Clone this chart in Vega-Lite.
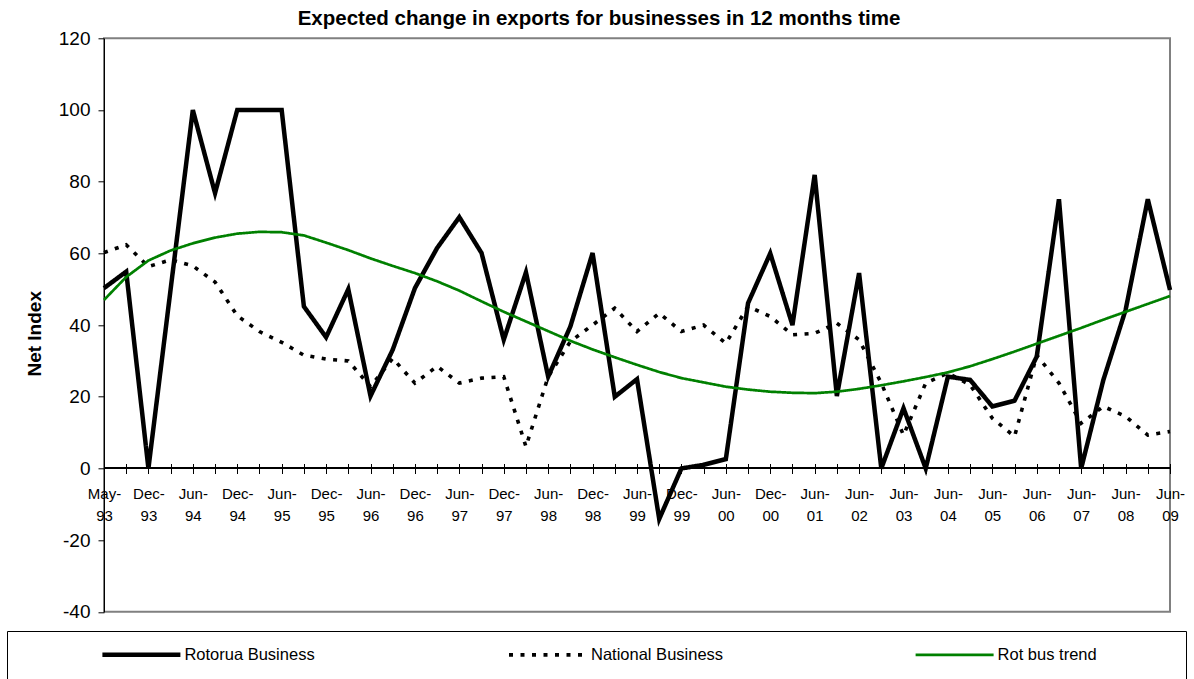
{
  "$schema": "https://vega.github.io/schema/vega-lite/v6.json",
  "width": 1066,
  "height": 573.5,
  "autosize": {"type": "none"},
  "padding": {"left": 104, "top": 38.3, "right": 24, "bottom": 67.2},
  "config": {"font": "Liberation Sans", "view": {"stroke": "#808080", "strokeWidth": 2}},
  "title": {"text": "Expected change in exports for businesses in 12 months time", "fontSize": 20.5, "fontWeight": "bold", "color": "#000", "anchor": "middle", "dx": -38, "dy": 8, "offset": 8},
  "data": {"values": [
    {"period": "May-93", "Rotorua Business": 50.3, "National Business": 60.2, "Rot bus trend": 47.0},
    {"period": "Sep-93", "Rotorua Business": 54.9, "National Business": 62.4, "Rot bus trend": 53.4},
    {"period": "Dec-93", "Rotorua Business": 0, "National Business": 56.3, "Rot bus trend": 58.0},
    {"period": "Mar-94", "Rotorua Business": 50, "National Business": 58.2, "Rot bus trend": 60.8},
    {"period": "Jun-94", "Rotorua Business": 100, "National Business": 56.5, "Rot bus trend": 62.8},
    {"period": "Sep-94", "Rotorua Business": 76.8, "National Business": 52.0, "Rot bus trend": 64.4},
    {"period": "Dec-94", "Rotorua Business": 100, "National Business": 42.6, "Rot bus trend": 65.5},
    {"period": "Mar-95", "Rotorua Business": 100, "National Business": 38.2, "Rot bus trend": 66.0},
    {"period": "Jun-95", "Rotorua Business": 100, "National Business": 35.2, "Rot bus trend": 65.9},
    {"period": "Sep-95", "Rotorua Business": 45.2, "National Business": 31.6, "Rot bus trend": 65.0},
    {"period": "Dec-95", "Rotorua Business": 36.6, "National Business": 30.5, "Rot bus trend": 63.0},
    {"period": "Mar-96", "Rotorua Business": 50.0, "National Business": 30.0, "Rot bus trend": 60.9},
    {"period": "Jun-96", "Rotorua Business": 20.2, "National Business": 22.8, "Rot bus trend": 58.6},
    {"period": "Sep-96", "Rotorua Business": 33.1, "National Business": 30.7, "Rot bus trend": 56.5},
    {"period": "Dec-96", "Rotorua Business": 50.3, "National Business": 23.8, "Rot bus trend": 54.5},
    {"period": "Mar-97", "Rotorua Business": 61.5, "National Business": 28.5, "Rot bus trend": 52.2},
    {"period": "Jun-97", "Rotorua Business": 70.1, "National Business": 23.8, "Rot bus trend": 49.6},
    {"period": "Sep-97", "Rotorua Business": 60.1, "National Business": 25.2, "Rot bus trend": 46.6},
    {"period": "Dec-97", "Rotorua Business": 35.9, "National Business": 25.6, "Rot bus trend": 43.7},
    {"period": "Mar-98", "Rotorua Business": 54.7, "National Business": 6.1, "Rot bus trend": 41.0},
    {"period": "Jun-98", "Rotorua Business": 25.6, "National Business": 25.6, "Rot bus trend": 38.3},
    {"period": "Sep-98", "Rotorua Business": 39.6, "National Business": 35.4, "Rot bus trend": 35.6},
    {"period": "Dec-98", "Rotorua Business": 60.1, "National Business": 40.0, "Rot bus trend": 33.2},
    {"period": "Mar-99", "Rotorua Business": 20.0, "National Business": 44.7, "Rot bus trend": 31.0},
    {"period": "Jun-99", "Rotorua Business": 24.9, "National Business": 38.2, "Rot bus trend": 28.9},
    {"period": "Sep-99", "Rotorua Business": -14.1, "National Business": 43.3, "Rot bus trend": 26.9},
    {"period": "Dec-99", "Rotorua Business": 0, "National Business": 38.2, "Rot bus trend": 25.2},
    {"period": "Mar-00", "Rotorua Business": 1.0, "National Business": 40.0, "Rot bus trend": 24.0},
    {"period": "Jun-00", "Rotorua Business": 2.6, "National Business": 34.9, "Rot bus trend": 22.8},
    {"period": "Sep-00", "Rotorua Business": 46.1, "National Business": 45.2, "Rot bus trend": 22.0},
    {"period": "Dec-00", "Rotorua Business": 60.0, "National Business": 42.4, "Rot bus trend": 21.4},
    {"period": "Mar-01", "Rotorua Business": 40.0, "National Business": 37.3, "Rot bus trend": 21.1},
    {"period": "Jun-01", "Rotorua Business": 81.9, "National Business": 37.7, "Rot bus trend": 21.0},
    {"period": "Dec-01", "Rotorua Business": 20.2, "National Business": 40.5, "Rot bus trend": 21.4},
    {"period": "Jun-02", "Rotorua Business": 54.5, "National Business": 35.9, "Rot bus trend": 22.2},
    {"period": "Dec-02", "Rotorua Business": 0, "National Business": 23.8, "Rot bus trend": 23.2},
    {"period": "Jun-03", "Rotorua Business": 16.8, "National Business": 9.3, "Rot bus trend": 24.3},
    {"period": "Dec-03", "Rotorua Business": 0, "National Business": 23.8, "Rot bus trend": 25.5},
    {"period": "Jun-04", "Rotorua Business": 25.6, "National Business": 26.6, "Rot bus trend": 26.8},
    {"period": "Dec-04", "Rotorua Business": 24.7, "National Business": 23.3, "Rot bus trend": 28.5},
    {"period": "Jun-05", "Rotorua Business": 17.3, "National Business": 14.0, "Rot bus trend": 30.5},
    {"period": "Dec-05", "Rotorua Business": 18.9, "National Business": 8.9, "Rot bus trend": 32.6},
    {"period": "Jun-06", "Rotorua Business": 31.2, "National Business": 31.6, "Rot bus trend": 34.8},
    {"period": "Dec-06", "Rotorua Business": 75.1, "National Business": 23.8, "Rot bus trend": 37.0},
    {"period": "Jun-07", "Rotorua Business": 0, "National Business": 12.6, "Rot bus trend": 39.2},
    {"period": "Dec-07", "Rotorua Business": 24.7, "National Business": 17.3, "Rot bus trend": 41.5},
    {"period": "Jun-08", "Rotorua Business": 44.2, "National Business": 14.5, "Rot bus trend": 43.7},
    {"period": "Dec-08", "Rotorua Business": 75.1, "National Business": 9.3, "Rot bus trend": 45.9},
    {"period": "Jun-09", "Rotorua Business": 49.8, "National Business": 10.3, "Rot bus trend": 48.1}
  ]},
  "transform": [{"fold": ["Rotorua Business", "National Business", "Rot bus trend"], "as": ["series", "value"]}],
  "layer": [
    {
      "mark": {"type": "rule", "color": "#000", "strokeWidth": 1},
      "encoding": {"y": {"datum": 0, "type": "quantitative"}}
    },
    {
      "mark": {"type": "line"},
      "encoding": {
        "x": {
          "field": "period", "type": "ordinal", "sort": null,
          "scale": {"type": "point", "padding": 0},
          "axis": {
            "orient": "bottom", "offset": -148.3, "domain": false, "grid": false,
            "tickSize": 10, "tickColor": "#000", "tickWidth": 1,
            "labelAngle": 0, "labelFontSize": 15, "labelColor": "#000", "labelPadding": 13,
            "labelLineHeight": 22, "labelOverlap": false, "labelBound": false, "labelFlush": false,
            "labelExpr": "indexof(['May-93','Dec-93','Jun-94','Dec-94','Jun-95','Dec-95','Jun-96','Dec-96','Jun-97','Dec-97','Jun-98','Dec-98','Jun-99','Dec-99','Jun-00','Dec-00','Jun-01','Jun-02','Jun-03','Jun-04','Jun-05','Jun-06','Jun-07','Jun-08','Jun-09'], datum.value) >= 0 ? [slice(datum.value, 0, 4), slice(datum.value, 4)] : ''",
            "title": null
          }
        },
        "y": {
          "field": "value", "type": "quantitative",
          "scale": {"domain": [-40, 120], "nice": false, "zero": false},
          "axis": {
            "values": [-40, -20, 0, 20, 40, 60, 80, 100, 120], "grid": false,
            "domainColor": "#000", "tickColor": "#000", "tickSize": 6,
            "labelFontSize": 19, "labelColor": "#000", "labelPadding": 8,
            "labelExpr": "'' + datum.value",
            "title": "Net Index", "titleFontSize": 19, "titleFontWeight": "bold", "titleColor": "#000", "titlePadding": 14,
            "titleY": 295
          }
        },
        "color": {
          "field": "series", "type": "nominal",
          "scale": {"domain": ["Rotorua Business", "National Business", "Rot bus trend"], "range": ["#000000", "#000000", "#008000"]},
          "legend": {
            "orient": "none", "legendX": -97, "legendY": 592.7, "direction": "horizontal", "columns": 3,
            "title": "\u00a0\u200b", "titleOrient": "left", "titlePadding": 80.4, "titleFontSize": 16.5,
            "padding": 15, "strokeColor": "#000", "fillColor": "#fff",
            "symbolType": "M-7.8,0H7.8", "symbolSize": 100, "symbolOffset": 30.75,
            "labelFontSize": 16.5, "labelColor": "#000", "labelLimit": 400,
            "labelOffset": 34.75, "columnPadding": 143.6, "gridAlign": "all",
            "labelExpr": "datum.label == 'Rot bus trend' ? datum.label + '\u00a0\u00a0\u00a0\u00a0\u00a0\u00a0\u00a0\u00a0\u00a0\u00a0\u00a0\u00a0\u00a0\u00a0\u00a0\u00a0\u200b' : datum.label"
          }
        },
        "strokeDash": {
          "field": "series", "type": "nominal",
          "scale": {"domain": ["Rotorua Business", "National Business", "Rot bus trend"], "range": [[1, 0], [4, 7.5], [1, 0]]},
          "legend": {
            "orient": "none", "legendX": -97, "legendY": 592.7, "direction": "horizontal", "columns": 3,
            "title": "\u00a0\u200b", "titleOrient": "left", "titlePadding": 80.4, "titleFontSize": 16.5,
            "padding": 15, "strokeColor": "#000", "fillColor": "#fff",
            "symbolType": "M-7.8,0H7.8", "symbolSize": 100, "symbolOffset": 30.75,
            "labelFontSize": 16.5, "labelColor": "#000", "labelLimit": 400,
            "labelOffset": 34.75, "columnPadding": 143.6, "gridAlign": "all",
            "labelExpr": "datum.label == 'Rot bus trend' ? datum.label + '\u00a0\u00a0\u00a0\u00a0\u00a0\u00a0\u00a0\u00a0\u00a0\u00a0\u00a0\u00a0\u00a0\u00a0\u00a0\u00a0\u200b' : datum.label"
          }
        },
        "strokeWidth": {
          "field": "series", "type": "nominal",
          "scale": {"domain": ["Rotorua Business", "National Business", "Rot bus trend"], "range": [4.5, 2.7, 1]},
          "legend": {
            "orient": "none", "legendX": -97, "legendY": 592.7, "direction": "horizontal", "columns": 3,
            "title": "\u00a0\u200b", "titleOrient": "left", "titlePadding": 80.4, "titleFontSize": 16.5,
            "padding": 15, "strokeColor": "#000", "fillColor": "#fff",
            "symbolType": "M-7.8,0H7.8", "symbolSize": 100, "symbolOffset": 30.75,
            "labelFontSize": 16.5, "labelColor": "#000", "labelLimit": 400,
            "labelOffset": 34.75, "columnPadding": 143.6, "gridAlign": "all",
            "labelExpr": "datum.label == 'Rot bus trend' ? datum.label + '\u00a0\u00a0\u00a0\u00a0\u00a0\u00a0\u00a0\u00a0\u00a0\u00a0\u00a0\u00a0\u00a0\u00a0\u00a0\u00a0\u200b' : datum.label"
          }
        }
      }
    }
  ]
}
